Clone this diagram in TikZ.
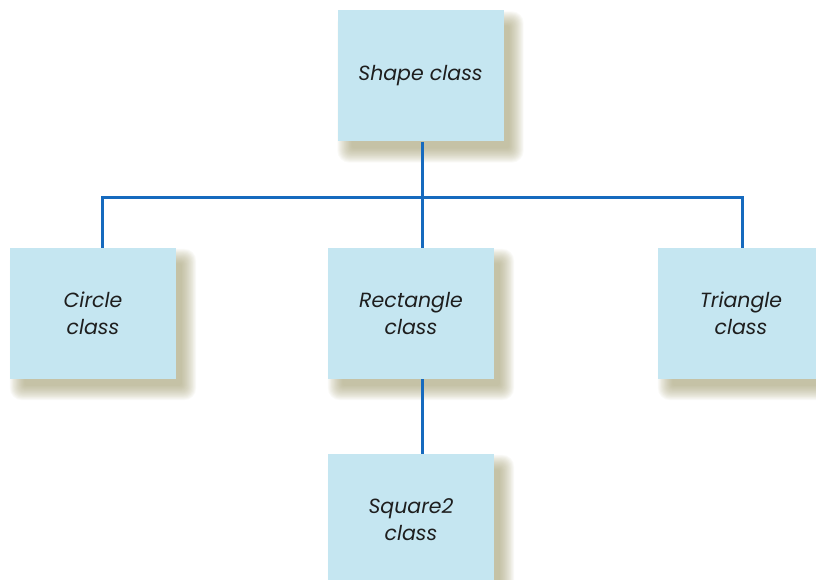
\documentclass[tikz,border=0pt]{standalone}
\usepackage{fontspec}
\setmainfont{Poppins}
\usepackage{tikz}
\usetikzlibrary{positioning}
\definecolor{boxfill}{RGB}{197,230,241}
\definecolor{linkblue}{RGB}{22,106,190}
\definecolor{inktext}{RGB}{30,30,30}
\definecolor{shadowolive}{RGB}{160,155,110}
\pgfdeclarelayer{background}
\pgfsetlayers{background,main}

\tikzset{
  cls/.style={rectangle,fill=boxfill,minimum width=166pt,minimum height=131pt,
    inner sep=0pt,align=center,text=inktext,font=\fontsize{20.5}{27}\selectfont\itshape},
  softshadow/.style={fill=shadowolive,opacity=0.05},
  link/.style={draw=linkblue,line width=3pt}
}

\begin{document}
\begin{tikzpicture}[x=1pt,y=1pt,node distance=237.5pt]
  \useasboundingbox (0,0) rectangle (816,-580);

  \node[cls] (shape) at (420.5,-76) {Shape class};
  \node[cls] (rect) [below of=shape,xshift=-9.5pt] {Rectangle\\class};
  \node[cls] (circ) [left of=rect,node distance=318pt] {Circle\\class};
  \node[cls] (tri) [right of=rect,node distance=330pt] {Triangle\\class};
  \node[cls] (sq) [below of=rect,node distance=206pt] {Square2\\class};

  % blurred shadows behind the boxes
  \begin{pgfonlayer}{background}
    \foreach \n in {shape,rect,circ,tri,sq}
      \foreach \k in {0,...,17}
        \fill[softshadow,rounded corners=12pt-0.6*\k pt]
          ([shift={({0+0.85*\k},{-21+0.85*\k})}]\n.south west) rectangle
          ([shift={({20-0.85*\k},{-1-0.85*\k})}]\n.north east);
  \end{pgfonlayer}

  \coordinate (bus) at (422,-198);

  \draw[link] ([xshift=1.5pt]shape.south) -- (bus);
  \draw[link] ([xshift=9pt]circ.north) |- (bus) -| ([xshift=1pt]tri.north);
  \draw[link] (bus) -- ([xshift=11pt]rect.north);
  \draw[link] ([xshift=11pt]rect.south) -- ([xshift=11pt]sq.north);
\end{tikzpicture}
\end{document}
